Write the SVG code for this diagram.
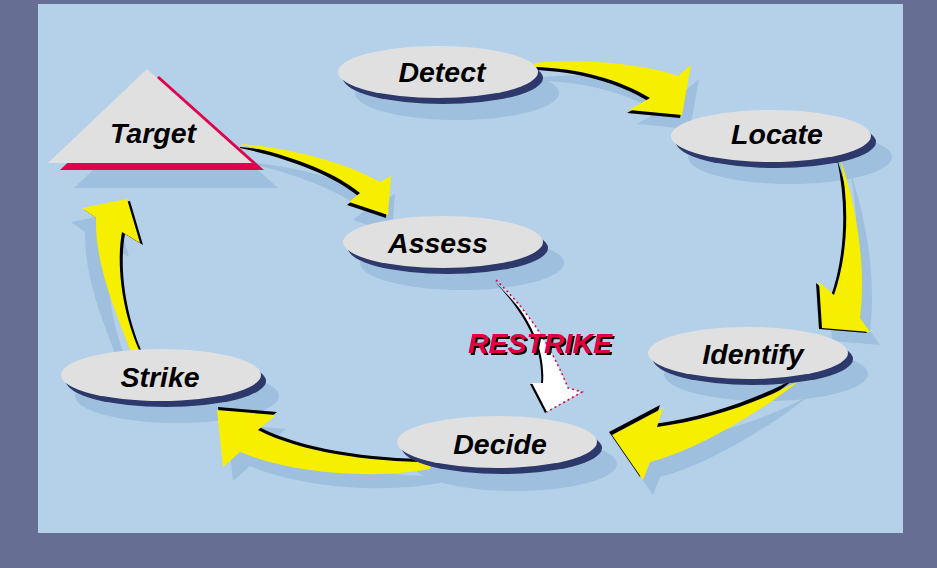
<svg xmlns="http://www.w3.org/2000/svg" width="937" height="568" viewBox="0 0 937 568">
<style>
.sh{fill:#9EC0DE}
.bk{fill:#000}
.yl{fill:#F6EF00}
.nv{fill:#2D386B}
.gr{fill:#E0E0E0}
.lbl{font-family:"Liberation Sans",Arial,sans-serif;font-weight:bold;font-style:italic;font-size:28.5px;fill:#000;text-anchor:middle}
.rs{font-family:"Liberation Sans",Arial,sans-serif;font-weight:bold;font-style:italic;font-size:28.5px;text-anchor:middle;fill:#E1003F}
</style>
<defs>
<filter id="ds" x="-10%" y="-30%" width="120%" height="160%">
<feDropShadow dx="2" dy="2" stdDeviation="0" flood-color="#000" flood-opacity="1"/>
</filter>
<path id="aA" d="M242,144 C290,148 345,162 380,182 L391,176 L388,215 L349,202 L360,193 C335,172 290,155 242,145 Z"/>
<path id="aB" d="M534,63 C580,58 645,64 678,76 L691,65 L682,115 L629,110 L650,98 C620,80 580,68 534,67 Z"/>
<path id="aC" d="M840,158 C858,210 866,270 860,318 L870,332 L822,328 L819,282 L834,295 C848,255 850,205 840,158 Z"/>
<path id="aD" d="M800,380 C770,405 700,450 650,462 L643,480 L612,435 L663,408 L657,427 C710,420 765,400 800,380 Z"/>
<path id="aE" d="M430,469 C370,480 290,473 240,452 L223,467 L217,410 L276,415 L258,430 C300,452 370,462 430,462 Z"/>
<path id="aF" d="M131,352 C115,310 95,265 96,218 L82,208 L127,199 L140,243 L122,232 C115,270 125,320 140,352 Z"/>
<path id="aR" d="M496,280 C522,305 548,338 568,388 L582,392 L547,412 L532,383 L543,383 C546,345 525,310 496,280 Z"/>
</defs>
<rect x="0" y="0" width="937" height="568" fill="#676E93"/>
<rect x="38" y="4" width="865" height="529" fill="#B5D1E9"/>
<g id="shadows">
<polygon class="sh" points="173,94 74,188 278,188"/>
<ellipse class="sh" cx="457" cy="93" rx="102" ry="27"/>
<ellipse class="sh" cx="790" cy="157" rx="102" ry="27"/>
<ellipse class="sh" cx="462" cy="263" rx="102" ry="27"/>
<ellipse class="sh" cx="766" cy="374" rx="102" ry="27"/>
<ellipse class="sh" cx="515" cy="464" rx="102" ry="27"/>
<ellipse class="sh" cx="177" cy="396" rx="102" ry="27"/>
</g>
<g id="connectors">
<use href="#aA" class="sh" transform="translate(4,18)"/>
<use href="#aB" class="sh" transform="translate(8,14)"/>
<use href="#aC" class="sh" transform="translate(10,13)"/>
<use href="#aD" class="sh" transform="translate(10,15)"/>
<use href="#aE" class="sh" transform="translate(10,14)"/>
<use href="#aF" class="sh" transform="translate(-11,14)"/>
<g id="target-assess"><use href="#aA" class="bk" transform="translate(-2,3)"/><use href="#aA" class="yl"/></g>
<g id="detect-locate"><use href="#aB" class="bk" transform="translate(-2,3)"/><use href="#aB" class="yl"/></g>
<g id="locate-identify"><use href="#aC" class="bk" transform="translate(-3,1)"/><use href="#aC" class="yl"/></g>
<g id="identify-decide"><use href="#aD" class="bk" transform="translate(-3,-3)"/><use href="#aD" class="yl"/></g>
<g id="decide-strike"><use href="#aE" class="bk" transform="translate(1,-3)"/><use href="#aE" class="yl"/></g>
<g id="strike-target"><use href="#aF" class="bk" transform="translate(3,2)"/><use href="#aF" class="yl"/></g>
<g id="assess-decide">
<use href="#aR" class="bk" transform="translate(-2,1)"/>
<use href="#aR" fill="#FFFFFF"/>
<path d="M496,280 C522,305 548,338 568,388 L582,392 L547,412" fill="none" stroke="#E1003F" stroke-width="1.5" stroke-dasharray="2,3"/>
<text class="rs" x="540" y="353" filter="url(#ds)">RESTRIKE</text>
</g>
</g>
<g id="node-target">
<polygon points="159,76 60,170 264,170" fill="#E1004B"/>
<polygon class="gr" points="147,69 48,163 252,163"/>
<text class="lbl" x="153" y="143">Target</text>
</g>
<g id="node-detect">
<ellipse class="nv" cx="443" cy="78" rx="100" ry="26"/>
<ellipse class="gr" cx="438" cy="72" rx="100" ry="26"/>
<text class="lbl" x="442" y="82">Detect</text>
</g>
<g id="node-locate">
<ellipse class="nv" cx="776" cy="142" rx="100" ry="26"/>
<ellipse class="gr" cx="771" cy="136" rx="100" ry="26"/>
<text class="lbl" x="777" y="144">Locate</text>
</g>
<g id="node-assess">
<ellipse class="nv" cx="448" cy="248" rx="100" ry="26"/>
<ellipse class="gr" cx="443" cy="242" rx="100" ry="26"/>
<text class="lbl" x="438" y="253">Assess</text>
</g>
<g id="node-identify">
<ellipse class="nv" cx="753" cy="359" rx="100" ry="26"/>
<ellipse class="gr" cx="748" cy="353" rx="100" ry="26"/>
<text class="lbl" x="753" y="364">Identify</text>
</g>
<g id="node-decide">
<ellipse class="nv" cx="502" cy="448" rx="100" ry="26"/>
<ellipse class="gr" cx="497" cy="442" rx="100" ry="26"/>
<text class="lbl" x="500" y="454">Decide</text>
</g>
<g id="node-strike">
<ellipse class="nv" cx="166" cy="381" rx="100" ry="26"/>
<ellipse class="gr" cx="161" cy="375" rx="100" ry="26"/>
<text class="lbl" x="160" y="387">Strike</text>
</g>
</svg>
